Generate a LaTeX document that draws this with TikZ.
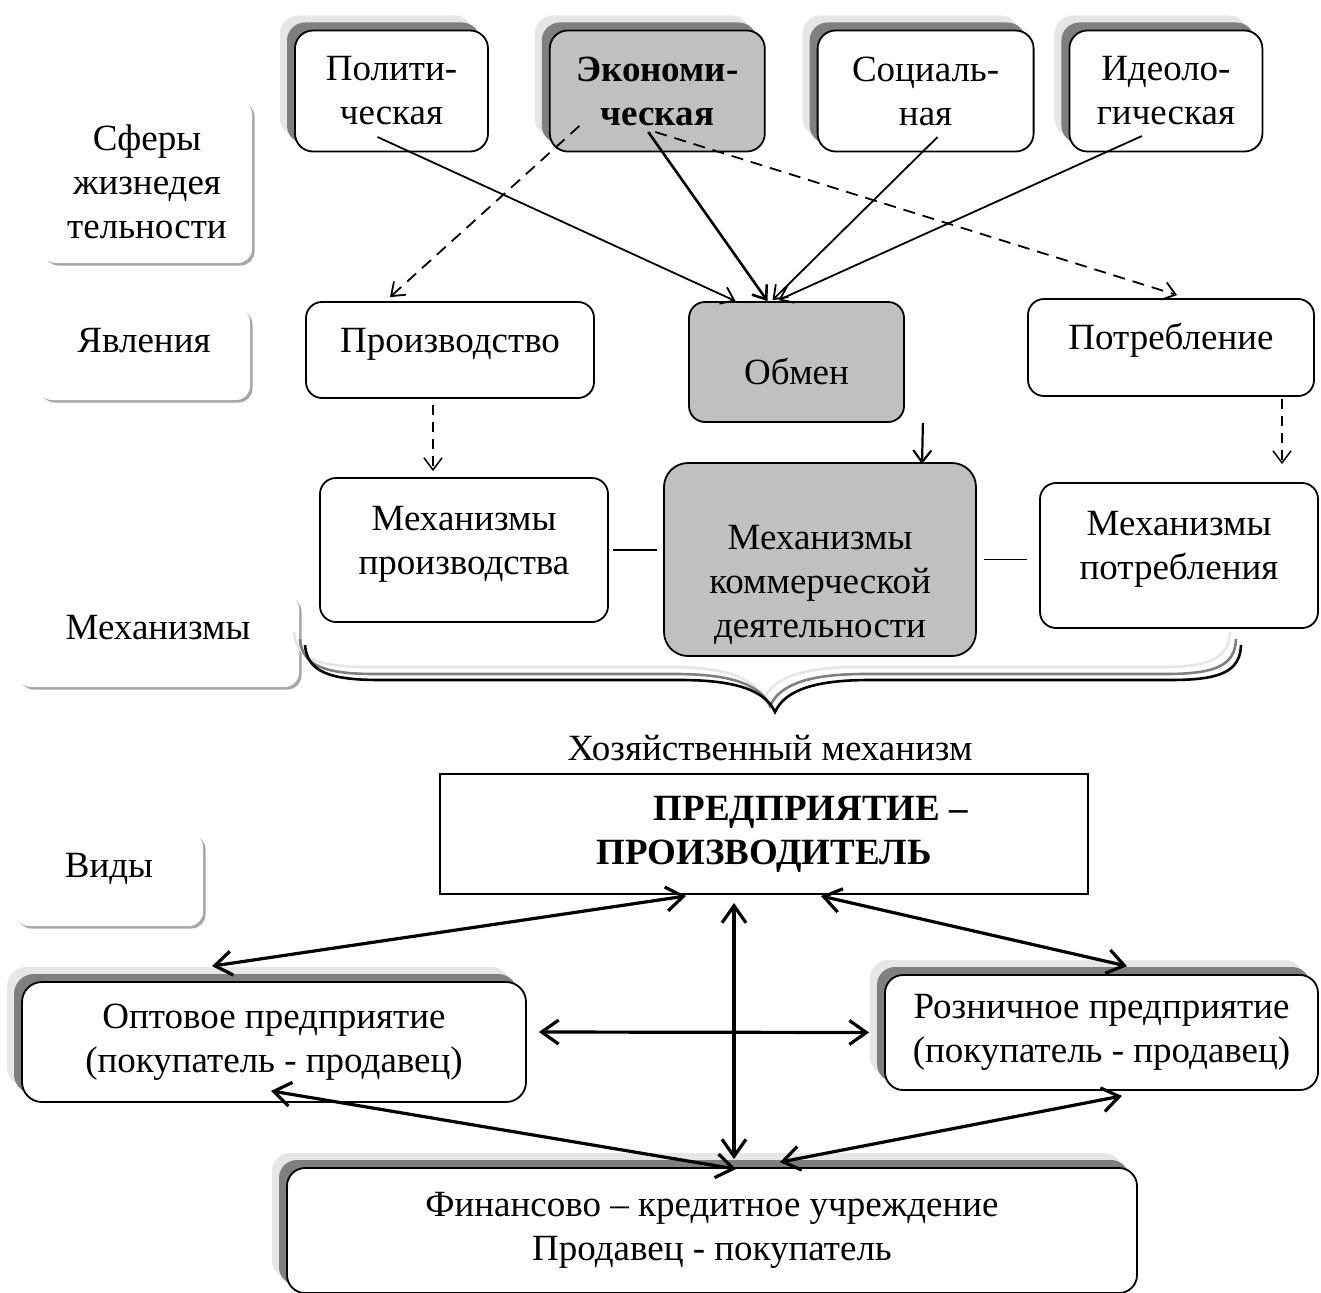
\documentclass[tikz,border=0pt]{standalone}
\usepackage{fontspec}
\setmainfont{Liberation Serif}
\usepackage{tikz}
\usetikzlibrary{shapes,shadows,calc}
\usetikzlibrary{positioning,arrows.meta}
\definecolor{boxgray}{HTML}{C0C0C0}
\definecolor{shdark}{HTML}{7F7F7F}
\definecolor{shlight}{HTML}{E6E6E6}
\newcommand{\bodyfont}{\fontsize{37}{44}\selectfont}
\newcommand{\vstr}[2]{\rule[-#2]{0pt}{\dimexpr#1+#2\relax}}

\begin{document}
\begin{tikzpicture}[x=1pt, y=-1pt, font=\bodyfont, line width=1.8pt,
	>={Straight Barb[length=12pt,width=18pt]},
	lbl/.style={rectangle, rounded corners=14pt, fill=white, inner sep=0pt, align=center,
		general shadow={fill=black!35, shadow xshift=2.5pt, shadow yshift=-2.5pt}},
	spherebox/.style={rectangle, rounded corners=18pt, draw, fill=white, inner sep=0pt, align=center,
		general shadow={fill=shlight, shadow xshift=-15pt, shadow yshift=15pt},
		general shadow={fill=shdark, shadow xshift=-8pt, shadow yshift=8pt}},
	stagebox/.style={rectangle, rounded corners=16pt, draw, fill=white, inner sep=0pt, align=center},
	dashline/.style={->, line width=1.8pt, dash pattern=on 12pt off 8pt},
	bigarrow/.style={<->, line width=3.2pt, >={Straight Barb[length=17pt,width=24pt]}}]
	\useasboundingbox (0,0) rectangle (1321,1292);

	% labels on the left
	\node[lbl, minimum width=210pt, minimum height=163pt] (sfery) at (147,181.5) {Сферы\\жизнедея\\тельности};
	\node[lbl, minimum width=212pt, minimum height=92pt] (yavl) at (144,354) {\vstr{26pt}{30pt}Явления};
	\node[lbl, minimum width=282pt, minimum height=92pt] (mekh) at (158,641) {\vstr{26pt}{30pt}Механизмы};
	\node[lbl, minimum width=188pt, minimum height=93pt] (vidy) at (109,879.5) {\vstr{26pt}{30pt}Виды};

	% spheres
	\node[spherebox, minimum width=193pt, minimum height=121pt] (pol) at (391.5,91) {Полити-\\ческая};
	\node[spherebox, fill=boxgray, font=\bodyfont\bfseries, minimum width=215pt, minimum height=121pt] (econ) [right=60pt of pol] {Экономи-\\ческая};
	\node[spherebox, minimum width=216pt, minimum height=121pt] (soc) [right=51pt of econ] {Социаль-\\ная};
	\node[spherebox, minimum width=193pt, minimum height=121pt] (ideo) [right=34pt of soc] {Идеоло-\\гическая};

	% phenomena
	\node[stagebox, minimum width=288pt, minimum height=96pt] (proiz) at (450,350) {\vstr{26pt}{22pt}Производство};
	\node[stagebox, fill=boxgray, minimum width=215pt, minimum height=120pt] (obmen) at (796.5,362) {\vstr{50pt}{6pt}Обмен};
	\node[stagebox, minimum width=286pt, minimum height=97pt] (potr) at (1171,347.5) {\vstr{26pt}{22pt}Потребление};

	% mechanisms
	\node[stagebox, minimum width=288pt, minimum height=144pt] (mproiz) at (464,550) {\vstr{33pt}{0pt}Механизмы\\производства\vstr{0pt}{29pt}};
	\node[stagebox, fill=boxgray, rounded corners=24pt, minimum width=312pt, minimum height=193pt] (mkom) at (820,559.5) {\vstr{77pt}{0pt}Механизмы\\коммерческой\\деятельности\vstr{0pt}{9pt}};
	\node[stagebox, minimum width=278pt, minimum height=145pt] (mpotr) at (1179,555.5) {\vstr{33pt}{0pt}Механизмы\\потребления\vstr{0pt}{29pt}};

	\draw[shorten <=4pt, shorten >=6pt] (mproiz.east) -- (mproiz.east -| mkom.west);
	\draw[shorten <=7pt, shorten >=12pt] (mkom.east) -- (mkom.east -| mpotr.west);

	% spheres to phenomena
	\draw[->] ($(pol)+(-14,46)$) -- ($(obmen.north)+(-61,0)$);
	\draw[->, line width=2.6pt] ($(econ)+(-9,41)$) -- ($(obmen.north)+(-29,0)$);
	\draw[->] ($(soc)+(12,46)$) -- ($(obmen.north)+(-24,-1)$);
	\draw[->] ($(ideo)+(-24,45)$) -- ($(obmen.north)+(-18,-1)$);
	\draw[dashline] ($(econ)+(-78,35)$) -- ($(proiz.north)+(-60,-4)$);
	\draw[dashline] ($(econ)+(-2,41)$) -- ($(potr.north)+(6,-3)$);

	% phenomena to mechanisms
	\draw[dashline, line width=1.5pt, dash pattern=on 10pt off 7pt] ($(proiz.south)+(-17,6)$) -- ($(mproiz.north)+(-31,-6)$);
	\draw[->, line width=2.2pt] ($(obmen.south east)+(18,0)$) -- ($(mkom.north)+(102,2)$);
	\draw[dashline, line width=1.5pt, dash pattern=on 10pt off 7pt] ($(potr.south)+(111,2)$) -- ($(mpotr.north)+(103,-18)$);

	% brace
	\draw[shlight, line width=2.6pt, shift={(-11,-13)}] (305,645) .. controls (307,672) and (330,680) .. (380,680) -- (680,680) .. controls (735,680) and (765,690) .. (775,712) .. controls (785,690) and (815,680) .. (870,680) -- (1170,680) .. controls (1220,680) and (1240,672) .. (1241,645);
	\draw[shdark, line width=2.6pt, shift={(-5,-6)}] (305,645) .. controls (307,672) and (330,680) .. (380,680) -- (680,680) .. controls (735,680) and (765,690) .. (775,712) .. controls (785,690) and (815,680) .. (870,680) -- (1170,680) .. controls (1220,680) and (1240,672) .. (1241,645);
	\draw[line width=2.6pt] (305,645) .. controls (307,672) and (330,680) .. (380,680) -- (680,680) .. controls (735,680) and (765,690) .. (775,712) .. controls (785,690) and (815,680) .. (870,680) -- (1170,680) .. controls (1220,680) and (1240,672) .. (1241,645);
	\node (hozmech) at (770,748) {Хозяйственный механизм};

	% kinds
	\node[draw, line width=2pt, inner sep=0pt, align=center, font=\bodyfont\bfseries, minimum width=648pt, minimum height=120pt] (predp) at (764,834) {\hspace*{94pt}ПРЕДПРИЯТИЕ –\\ПРОИЗВОДИТЕЛЬ};
	\node[spherebox, rounded corners=20pt, minimum width=504pt, minimum height=120pt] (opt) at (274,1042) {Оптовое предприятие\\(покупатель - продавец)};
	\node[spherebox, minimum width=433pt, minimum height=115pt] (rozn) at (1101.5,1032.5) {Розничное предприятие\\(покупатель - продавец)};
	\node[spherebox, minimum width=850pt, minimum height=125pt] (fin) at (712,1230.5) {Финансово – кредитное учреждение\\Продавец - покупатель};

	\draw[bigarrow] ($(predp.south)+(-78,1)$) -- ($(opt.north)+(-62,-15)$);
	\draw[bigarrow] ($(predp.south)+(57,1)$) -- ($(rozn.north)+(25.5,-8)$);
	\draw[bigarrow] ($(predp.south)+(-30,8)$) -- ($(fin.north)+(22,-8)$);
	\draw[bigarrow] ($(opt.east)+(12,-10)$) -- ($(rozn.west)+(-15,0)$);
	\draw[bigarrow] ($(opt.south)+(-3,-12)$) -- ($(fin.north)+(24,2)$);
	\draw[bigarrow] ($(rozn.south)+(20.5,5)$) -- ($(fin.north)+(68,-5)$);
\end{tikzpicture}
\end{document}
